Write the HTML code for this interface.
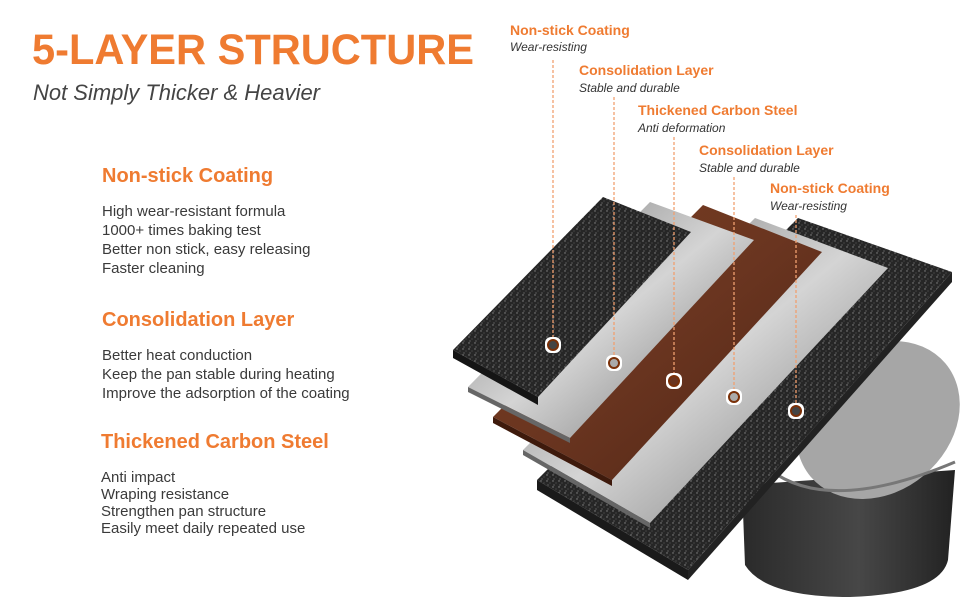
<!DOCTYPE html>
<html><head><meta charset="utf-8"><style>
html,body{margin:0;padding:0;background:#fff;width:970px;height:600px;overflow:hidden}
svg{display:block}
text{font-family:"Liberation Sans",Arial,sans-serif}
.h{fill:#ef7b31;font-weight:bold;font-size:20px}
.b{fill:#3a3a3a;font-size:15px}
.lt{fill:#ef7b31;font-weight:bold;font-size:14px}
.ls{fill:#333;font-size:12px;font-style:italic}
.dl{stroke:#f0a070;stroke-width:1.3;stroke-dasharray:3 2;fill:none}
</style></head><body>
<svg width="970" height="600" viewBox="0 0 970 600" xmlns="http://www.w3.org/2000/svg">
<defs>
<pattern id="grit" width="6" height="6" patternUnits="userSpaceOnUse">
<rect width="6" height="6" fill="#262626"/>
<circle cx="1" cy="1" r="0.7" fill="#8a8a8a"/><circle cx="4" cy="3" r="0.6" fill="#555"/><circle cx="2" cy="5" r="0.5" fill="#aaa"/>
</pattern>
<linearGradient id="sil" x1="0" y1="0" x2="1" y2="1">
<stop offset="0" stop-color="#777"/><stop offset="0.5" stop-color="#d4d4d4"/><stop offset="1" stop-color="#6e6e6e"/>
</linearGradient>
<linearGradient id="brn" x1="0" y1="0" x2="1" y2="1">
<stop offset="0" stop-color="#7a3f22"/><stop offset="0.5" stop-color="#6a3520"/><stop offset="1" stop-color="#4e2414"/>
</linearGradient>
<linearGradient id="pot" x1="0" y1="0" x2="1" y2="0">
<stop offset="0" stop-color="#2a2a2a"/><stop offset="0.55" stop-color="#474747"/><stop offset="1" stop-color="#222"/>
</linearGradient>
</defs>

<text x="32" y="64" fill="#ef7b31" font-weight="bold" font-size="43" textLength="442" lengthAdjust="spacingAndGlyphs">5-LAYER STRUCTURE</text>
<text x="33" y="100" fill="#444" font-style="italic" font-size="22" textLength="287" lengthAdjust="spacingAndGlyphs">Not Simply Thicker &amp; Heavier</text>

<text class="h" x="102" y="182">Non-stick Coating</text>
<text class="b" x="102" y="216">High wear-resistant formula</text>
<text class="b" x="102" y="235">1000+ times baking test</text>
<text class="b" x="102" y="254">Better non stick, easy releasing</text>
<text class="b" x="102" y="273">Faster cleaning</text>

<text class="h" x="102" y="326">Consolidation Layer</text>
<text class="b" x="102" y="360">Better heat conduction</text>
<text class="b" x="102" y="379">Keep the pan stable during heating</text>
<text class="b" x="102" y="398">Improve the adsorption of the coating</text>

<text class="h" x="101" y="448">Thickened Carbon Steel</text>
<text class="b" x="101" y="482">Anti impact</text>
<text class="b" x="101" y="499">Wraping resistance</text>
<text class="b" x="101" y="516">Strengthen pan structure</text>
<text class="b" x="101" y="533">Easily meet daily repeated use</text>

<!-- pot -->
<path d="M742 485 L745 565 Q765 597 850 597 Q940 594 948 560 L955 470 Z" fill="url(#pot)"/>
<ellipse cx="878" cy="420" rx="88" ry="72" transform="rotate(-40 878 420)" fill="#a6a6a6"/>
<path d="M770 470 Q830 515 955 462" stroke="#777" stroke-width="3" fill="none"/>

<!-- layer 5 black -->
<polygon points="798,218 952,272 688,570 537,480" fill="url(#grit)"/>
<polygon points="537,480 688,570 688,580 537,490" fill="#1a1a1a"/>
<polygon points="688,570 952,272 952,282 688,580" fill="#222"/>
<!-- layer 4 silver -->
<polygon points="755,218 888,268 650,523 523,450" fill="url(#sil)"/>
<polygon points="523,450 650,523 650,528 523,455" fill="#666"/>
<!-- layer 3 brown -->
<polygon points="703,205 822,252 612,480 493,417" fill="url(#brn)"/>
<polygon points="493,417 612,480 612,486 493,423" fill="#3e1a0c"/>
<!-- layer 2 silver -->
<polygon points="650,202 754,240 570,438 468,387" fill="url(#sil)"/>
<polygon points="468,387 570,438 570,443 468,392" fill="#666"/>
<!-- layer 1 black -->
<polygon points="603,197 691,232 538,397 453,350" fill="url(#grit)"/>
<polygon points="453,350 538,397 538,405 453,358" fill="#151515"/>

<!-- dashed leaders -->
<line class="dl" x1="553" y1="60" x2="553" y2="338"/>
<line class="dl" x1="614" y1="97" x2="614" y2="356"/>
<line class="dl" x1="674" y1="137" x2="674" y2="374"/>
<line class="dl" x1="734" y1="177" x2="734" y2="390"/>
<line class="dl" x1="796" y1="215" x2="796" y2="404"/>

<!-- markers -->
<g stroke-width="2">
<rect x="545" y="337" width="16" height="16" rx="6" fill="#fff"/><circle cx="553" cy="345" r="5" fill="#444" stroke="#7a3008"/>
<rect x="606" y="355" width="16" height="16" rx="6" fill="#fff"/><circle cx="614" cy="363" r="5" fill="#aaa" stroke="#7a3008"/>
<rect x="666" y="373" width="16" height="16" rx="6" fill="#fff"/><circle cx="674" cy="381" r="5" fill="#6a3520" stroke="#7a3008"/>
<rect x="726" y="389" width="16" height="16" rx="6" fill="#fff"/><circle cx="734" cy="397" r="5" fill="#aaa" stroke="#7a3008"/>
<rect x="788" y="403" width="16" height="16" rx="6" fill="#fff"/><circle cx="796" cy="411" r="5" fill="#444" stroke="#7a3008"/>
</g>

<text class="lt" x="510" y="35">Non-stick Coating</text>
<text class="ls" x="510" y="51">Wear-resisting</text>
<text class="lt" x="579" y="75">Consolidation Layer</text>
<text class="ls" x="579" y="92">Stable and durable</text>
<text class="lt" x="638" y="115">Thickened Carbon Steel</text>
<text class="ls" x="638" y="132">Anti deformation</text>
<text class="lt" x="699" y="155">Consolidation Layer</text>
<text class="ls" x="699" y="172">Stable and durable</text>
<text class="lt" x="770" y="193">Non-stick Coating</text>
<text class="ls" x="770" y="210">Wear-resisting</text>
</svg>
</body></html>
